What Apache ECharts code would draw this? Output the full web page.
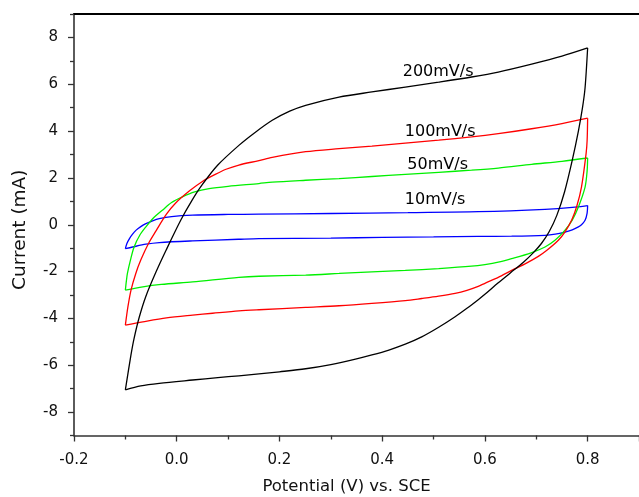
<!DOCTYPE html>
<html>
<head>
<meta charset="utf-8">
<script src="https://cdn.jsdelivr.net/npm/echarts@6/dist/echarts.min.js"></script>
<style>html,body{margin:0;padding:0;background:#fff}#c{width:639px;height:497px}</style>
</head>
<body>
<div id="c"></div>
<script>
// ---- data (potential V, current mA) ----
const rateNames = ['200mV/s', '100mV/s', '50mV/s', '10mV/s'];

const v200Anodic = [[-0.1,-7.05],[-0.089,-5.55],[-0.083,-4.85],[-0.073,-3.95],[-0.06,-3.05],[-0.04,-2.0],[-0.021,-1.1],[0.008,0.2],[0.03,1.05],[0.05,1.72],[0.08,2.55],[0.121,3.39],[0.15,3.9],[0.186,4.46],[0.22,4.85],[0.251,5.1],[0.316,5.45],[0.38,5.67],[0.445,5.88],[0.51,6.09],[0.574,6.31],[0.626,6.52],[0.691,6.86],[0.75,7.2],[0.8,7.55]];
const v200Cathodic = [[0.8,7.55],[0.795,5.85],[0.79,5.0],[0.782,4.0],[0.77,2.75],[0.755,1.4],[0.74,0.4],[0.725,-0.3],[0.71,-0.8],[0.694,-1.2],[0.675,-1.6],[0.65,-2.05],[0.626,-2.48],[0.6,-2.97],[0.587,-3.2],[0.565,-3.57],[0.542,-3.93],[0.51,-4.38],[0.477,-4.79],[0.445,-5.1],[0.413,-5.35],[0.38,-5.56],[0.348,-5.74],[0.3,-5.97],[0.251,-6.15],[0.2,-6.28],[0.16,-6.37],[0.121,-6.45],[0.08,-6.53],[0.031,-6.63],[-0.034,-6.77],[-0.07,-6.88],[-0.1,-7.05]];

const v100Anodic = [[-0.1,-4.29],[-0.095,-3.5],[-0.089,-2.79],[-0.08,-2.1],[-0.07,-1.51],[-0.055,-0.8],[-0.04,-0.25],[-0.02,0.45],[-0.002,0.93],[0.025,1.45],[0.05,1.85],[0.075,2.15],[0.096,2.37],[0.121,2.55],[0.16,2.74],[0.186,2.88],[0.251,3.12],[0.316,3.25],[0.38,3.36],[0.445,3.49],[0.51,3.61],[0.574,3.75],[0.626,3.89],[0.691,4.1],[0.75,4.32],[0.8,4.55]];
const v100Cathodic = [[0.8,4.55],[0.799,3.6],[0.797,3.04],[0.788,1.61],[0.779,0.8],[0.769,0.2],[0.756,-0.3],[0.743,-0.66],[0.72,-1.1],[0.704,-1.35],[0.68,-1.65],[0.652,-1.95],[0.626,-2.25],[0.6,-2.5],[0.587,-2.63],[0.565,-2.8],[0.542,-2.93],[0.51,-3.05],[0.477,-3.15],[0.445,-3.24],[0.38,-3.36],[0.316,-3.46],[0.251,-3.53],[0.16,-3.63],[0.121,-3.68],[0.07,-3.78],[0.031,-3.86],[-0.02,-3.98],[-0.066,-4.15],[-0.1,-4.29]];

const v50Anodic = [[-0.1,-2.79],[-0.098,-2.4],[-0.096,-2.08],[-0.09,-1.5],[-0.083,-0.95],[-0.072,-0.45],[-0.06,-0.09],[-0.045,0.3],[-0.028,0.62],[-0.01,0.95],[0.011,1.19],[0.035,1.4],[0.063,1.54],[0.1,1.64],[0.16,1.76],[0.186,1.82],[0.251,1.9],[0.316,1.97],[0.38,2.06],[0.445,2.15],[0.51,2.24],[0.574,2.33],[0.626,2.42],[0.691,2.58],[0.75,2.71],[0.8,2.85]];
const v50Cathodic = [[0.8,2.85],[0.799,2.3],[0.795,1.61],[0.782,0.76],[0.77,0.2],[0.756,-0.23],[0.737,-0.65],[0.717,-0.95],[0.69,-1.2],[0.652,-1.45],[0.626,-1.6],[0.6,-1.7],[0.574,-1.77],[0.51,-1.87],[0.445,-1.95],[0.38,-2.01],[0.316,-2.08],[0.251,-2.15],[0.16,-2.2],[0.121,-2.25],[0.031,-2.44],[-0.03,-2.55],[-0.066,-2.65],[-0.1,-2.79]];

const v10Anodic = [[-0.1,-1.02],[-0.097,-0.8],[-0.092,-0.59],[-0.086,-0.4],[-0.079,-0.23],[-0.07,-0.08],[-0.06,0.05],[-0.047,0.17],[-0.034,0.26],[-0.01,0.35],[0.031,0.41],[0.1,0.44],[0.16,0.45],[0.3,0.48],[0.45,0.52],[0.587,0.56],[0.717,0.66],[0.77,0.74],[0.8,0.82]];
const v10Cathodic = [[0.8,0.82],[0.799,0.5],[0.795,0.19],[0.788,0.0],[0.782,-0.09],[0.77,-0.22],[0.756,-0.31],[0.737,-0.4],[0.717,-0.45],[0.652,-0.49],[0.587,-0.5],[0.5,-0.52],[0.4,-0.54],[0.3,-0.57],[0.16,-0.59],[0.12,-0.62],[0.031,-0.69],[-0.034,-0.76],[-0.06,-0.83],[-0.086,-0.95],[-0.1,-1.02]];

// annotation anchor points (data coords of each label's left edge)
const labelX = [0.44, 0.444, 0.449, 0.444];
const labelY = [6.52, 3.96, 2.54, 1.05];

const xTicks = [-0.2, 0.0, 0.2, 0.4, 0.6, 0.8];
const yTicks = [-8, -6, -4, -2, 0, 2, 4, 6, 8];
const yMinorTicks = [-9, -7, -5, -3, -1, 1, 3, 5, 7, 9];

// ---- chart ----
const branches = [[v200Anodic, v200Cathodic], [v100Anodic, v100Cathodic], [v50Anodic, v50Cathodic], [v10Anodic, v10Cathodic]];
const colors = ['#000000', '#ff0000', '#00f000', '#0000ff'];
const FONT = 'DejaVu Sans';
const TXT = '#111111';

const series = [];
branches.forEach((pair, i) => {
  pair.forEach(d => series.push({
    name: rateNames[i], type: 'line', data: d, showSymbol: false, symbol: 'none', smooth: 0.3,
    lineStyle: { color: colors[i], width: 1.3 }, animation: false, z: 5 - i
  }));
});
series.push({
  type: 'scatter', symbolSize: 0, animation: false, silent: true, z: 10,
  itemStyle: { opacity: 1 },
  data: rateNames.map((n, i) => ({ name: n, value: [labelX[i], labelY[i]] })),
  label: { show: true, position: 'right', distance: 0, formatter: p => p.name, opacity: 1,
           textBorderWidth: 0, fontFamily: FONT, fontSize: 16, color: '#000' }
});

const axisLineStyle = { color: '#333', width: 1.6 };
const chart = echarts.init(document.getElementById('c'), null, { renderer: 'canvas' });
chart.setOption({
  animation: false,
  backgroundColor: '#ffffff',
  grid: { left: 74, top: 14, right: 0, bottom: 61.5, show: false, containLabel: false, outerBoundsMode: 'none' },
  xAxis: [{
    type: 'value', min: -0.2, max: 0.9, interval: 0.2,
    name: 'Potential (V) vs. SCE', nameLocation: 'middle', nameGap: 43,
    nameTextStyle: { fontFamily: FONT, fontSize: 16.5, color: TXT, padding: [0, 20, 0, 0] },
    axisLine: { show: true, onZero: false, lineStyle: axisLineStyle },
    axisTick: { show: true, inside: false, length: 6, lineStyle: { color: '#333', width: 1.3 } },
    minorTick: { show: true, splitNumber: 2, length: 4, lineStyle: { color: '#333', width: 1.3 } },
    splitLine: { show: false },
    axisLabel: { margin: 17, fontFamily: FONT, fontSize: 15, color: TXT, showMaxLabel: false,
      formatter: v => (xTicks.some(t => Math.abs(t - v) < 1e-9) ? v.toFixed(1) : '') }
  }, {
    type: 'value', min: -0.2, max: 0.9, position: 'top',
    axisLine: { show: true, onZero: false, lineStyle: { color: '#000', width: 2 } },
    axisTick: { show: false }, axisLabel: { show: false }, splitLine: { show: false }
  }],
  yAxis: [{
    type: 'value', min: -9, max: 9, interval: 1,
    name: 'Current (mA)', nameLocation: 'middle', nameGap: 44, nameRotate: 90,
    nameTextStyle: { fontFamily: FONT, fontSize: 18.5, color: TXT, padding: [0, 10, 0, 0] },
    axisLine: { show: true, onZero: false, lineStyle: axisLineStyle },
    axisTick: { show: true, inside: false, length: 6, customValues: yTicks, lineStyle: { color: '#333', width: 1.3 } },
    splitLine: { show: false },
    axisLabel: { margin: 16, fontFamily: FONT, fontSize: 15, color: TXT, customValues: yTicks,
      formatter: v => String(v) }
  }, {
    type: 'value', min: -9, max: 9, interval: 1, position: 'left', offset: 0,
    axisLine: { show: false, onZero: false },
    axisTick: { show: true, inside: false, length: 4, customValues: yMinorTicks, lineStyle: { color: '#333', width: 1.3 } },
    axisLabel: { show: false }, splitLine: { show: false }
  }],
  series: series
});
</script>
</body>
</html>
